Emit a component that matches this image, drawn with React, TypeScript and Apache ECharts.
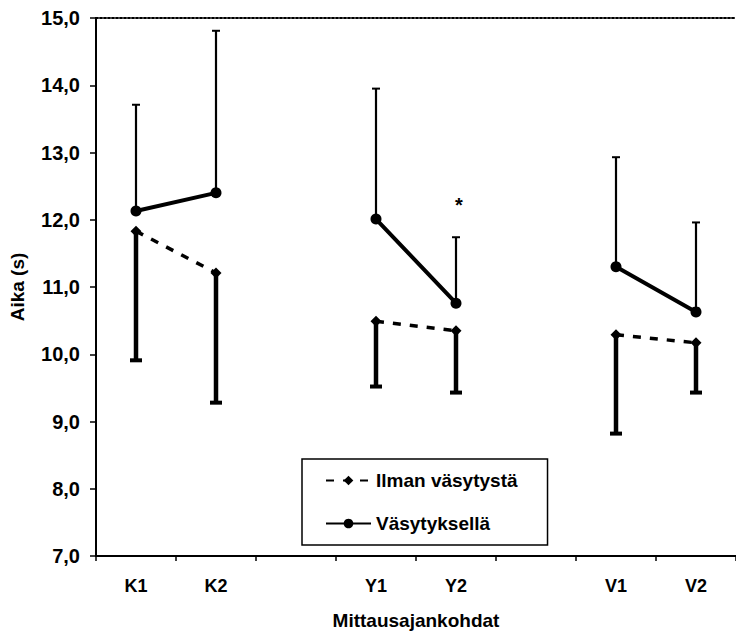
import React, { useEffect, useRef } from "react";
import * as echarts from "echarts";

const categories = ["K1", "K2", "", "Y1", "Y2", "", "V1", "V2"];
const ilmanMean = [11.83, 11.21, null, 10.49, 10.35, null, 10.29, 10.17];
const ilmanLower = [9.91, 9.28, null, 9.52, 9.43, null, 8.82, 9.43];
const vasyMean = [12.13, 12.4, null, 12.01, 10.76, null, 11.3, 10.63];
const vasyUpper = [13.71, 14.81, null, 13.95, 11.74, null, 12.93, 11.96];
const significance = ["", "", "", "", "*", "", "", ""];

const FONT = "'Liberation Sans', Arial, sans-serif";

function errorBars(means: (number | null)[], ends: (number | null)[]) {
  const out: any[] = [];
  means.forEach((m, i) => {
    if (m != null && ends[i] != null) out.push([i, m, ends[i], significance[i]]);
  });
  return out;
}

function makeRender(lineWidth: number, capWidth: number, capLW: number, withMark: boolean) {
  return (params: any, api: any) => {
    const x = api.value(0);
    const p0 = api.coord([x, api.value(1)]);
    const p1 = api.coord([x, api.value(2)]);
    const half = capWidth / 2;
    const children: any[] = [
      {
        type: "line",
        shape: { x1: p0[0], y1: p0[1], x2: p1[0], y2: p1[1] },
        style: { stroke: "#000", lineWidth },
      },
      {
        type: "line",
        shape: { x1: p1[0] - half, y1: p1[1], x2: p1[0] + half, y2: p1[1] },
        style: { stroke: "#000", lineWidth: capLW },
      },
    ];
    const mark = api.value(3);
    if (withMark && mark) {
      children.push({
        type: "text",
        x: p1[0] + 3,
        y: p1[1] - 32,
        style: {
          text: String(mark),
          fill: "#000",
          font: `bold 20px ${FONT}`,
          align: "center",
          verticalAlign: "middle",
        },
      });
    }
    return { type: "group", children };
  };
}

export default function App() {
  const ref = useRef<HTMLDivElement>(null);
  useEffect(() => {
    if (!ref.current) return;
    const chart = echarts.init(ref.current, undefined, { renderer: "svg" });
    const base = { color: "#000", fontFamily: FONT, fontWeight: "bold" as const };
    chart.setOption({
      animation: false,
      backgroundColor: "#fff",
      grid: { left: 96, right: -11, top: 18, bottom: 77 },
      legend: {
        orient: "vertical",
        left: 302,
        top: 459,
        itemWidth: 45,
        itemHeight: 12,
        itemGap: 24,
        padding: [12, 30, 12, 23],
        borderColor: "#000",
        borderWidth: 1.5,
        textStyle: { ...base, fontSize: 19 },
        data: ["Ilman väsytystä", "Väsytyksellä"],
      },
      xAxis: [
        {
          type: "category",
          data: categories,
          boundaryGap: true,
          position: "bottom",
          name: "Mittausajankohdat",
          nameLocation: "middle",
          nameGap: 55,
          nameTextStyle: { ...base, fontSize: 19 },
          axisLine: { lineStyle: { color: "#000", width: 2 } },
          axisTick: { show: true, length: 5, inside: false, alignWithLabel: false, lineStyle: { color: "#000", width: 1.5 } },
          axisLabel: { ...base, fontSize: 18, margin: 21, interval: 0 },
          splitLine: { show: false },
        },
        {
          type: "category",
          data: categories,
          position: "top",
          axisLine: { lineStyle: { color: "#000", width: 2, type: "dotted" } },
          axisTick: { show: false },
          axisLabel: { show: false },
          splitLine: { show: false },
        },
      ],
      yAxis: {
        type: "value",
        min: 7,
        max: 15,
        interval: 1,
        name: "Aika (s)",
        nameLocation: "middle",
        nameRotate: 90,
        nameGap: 69,
        nameTextStyle: { ...base, fontSize: 19 },
        axisLine: { show: true, lineStyle: { color: "#000", width: 2 } },
        axisTick: { show: true, length: 6, lineStyle: { color: "#000", width: 1.5 } },
        axisLabel: {
          ...base,
          fontSize: 20,
          margin: 16,
          formatter: (v: number) => v.toFixed(1).replace(".", ","),
        },
        splitLine: { show: false },
      },
      series: [
        {
          name: "Ilman väsytystä",
          type: "line",
          data: ilmanMean,
          connectNulls: false,
          symbol: "diamond",
          symbolSize: 11,
          itemStyle: { color: "#000" },
          lineStyle: { color: "#000", width: 3.5, type: [8, 9] },
          z: 3,
        },
        {
          name: "Väsytyksellä",
          type: "line",
          data: vasyMean,
          connectNulls: false,
          symbol: "circle",
          symbolSize: 11,
          itemStyle: { color: "#000" },
          lineStyle: { color: "#000", width: 4 },
          z: 3,
        },
        {
          type: "custom",
          name: "ilman-err",
          data: errorBars(ilmanMean, ilmanLower),
          renderItem: makeRender(4.5, 12, 4, false),
          encode: { x: 0, y: [1, 2] },
          z: 2,
        },
        {
          type: "custom",
          name: "vasy-err",
          data: errorBars(vasyMean, vasyUpper),
          renderItem: makeRender(2.2, 8, 2, true),
          encode: { x: 0, y: [1, 2] },
          z: 2,
        },
      ],
    });
    return () => chart.dispose();
  }, []);
  return <div ref={ref} style={{ width: 736, height: 635, position: "absolute", left: 0, top: 0 }} />;
}
